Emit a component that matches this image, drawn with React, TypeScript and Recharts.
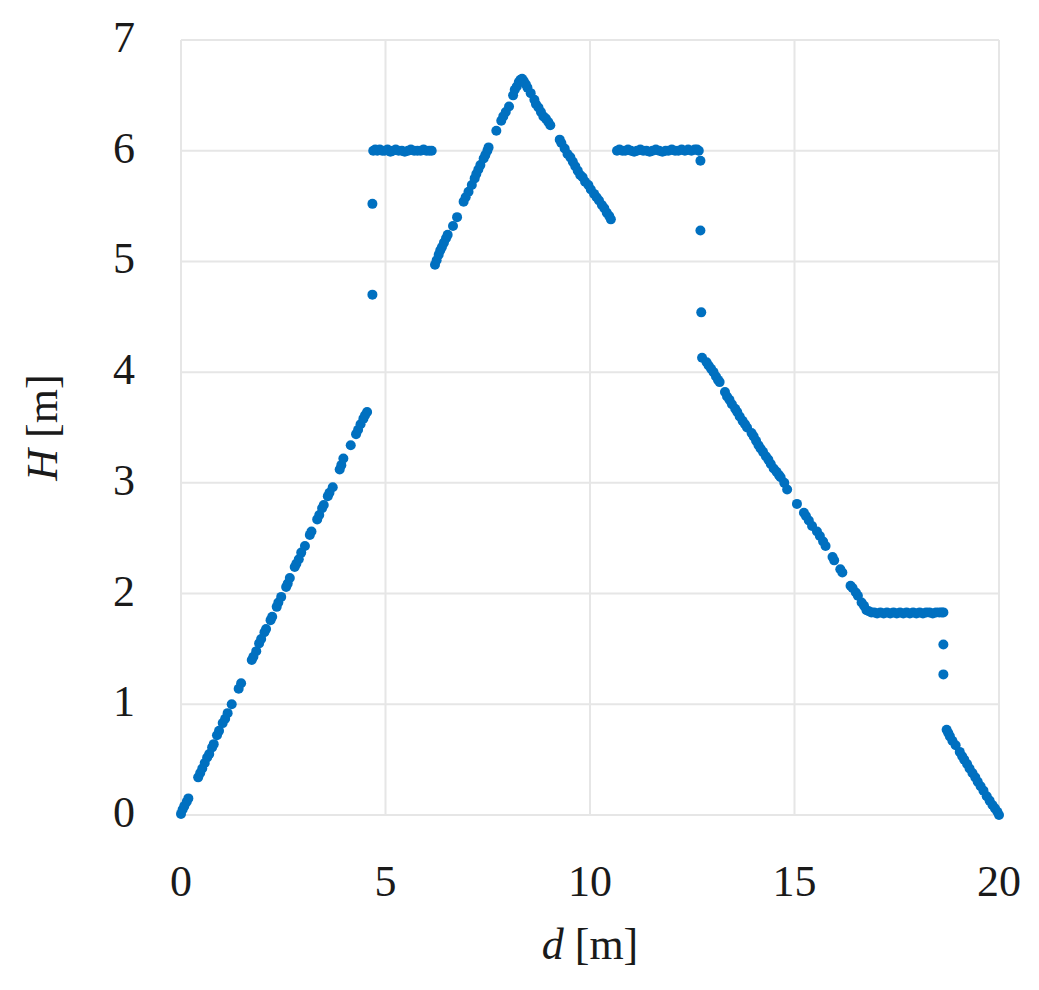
import React from "react";
import { ScatterChart, Scatter, XAxis, YAxis, CartesianGrid, Label } from "recharts";

type P = { d: number; H: number };
const mk = (a: number[][]): P[] => a.map(([d, H]) => ({ d, H }));

const xTicks = [0, 5, 10, 15, 20];
const yTicks = [0, 1, 2, 3, 4, 5, 6, 7];

const rise1 = mk([
  [0.0, 0.01], [0.04, 0.05], [0.08, 0.08], [0.14, 0.12], [0.18, 0.15],
  [0.42, 0.34], [0.47, 0.38], [0.52, 0.42], [0.58, 0.47], [0.64, 0.52],
  [0.69, 0.55], [0.76, 0.61], [0.8, 0.64], [0.88, 0.72], [0.93, 0.76],
  [1.02, 0.83], [1.08, 0.87], [1.14, 0.92], [1.24, 1.0], [1.41, 1.14],
  [1.47, 1.19], [1.73, 1.4], [1.77, 1.43], [1.84, 1.48], [1.91, 1.55],
  [1.96, 1.59], [2.04, 1.65], [2.08, 1.68], [2.19, 1.76], [2.23, 1.79],
  [2.34, 1.88], [2.38, 1.92], [2.45, 1.97], [2.57, 2.06], [2.61, 2.09],
  [2.66, 2.14], [2.78, 2.24], [2.82, 2.27], [2.88, 2.31], [2.94, 2.37],
  [3.03, 2.43], [3.15, 2.53], [3.19, 2.56], [3.33, 2.67], [3.38, 2.71],
  [3.45, 2.77], [3.49, 2.8], [3.59, 2.88], [3.63, 2.91], [3.71, 2.96],
  [3.88, 3.12], [3.92, 3.16], [3.97, 3.22], [4.15, 3.34], [4.28, 3.44],
  [4.33, 3.48], [4.39, 3.53], [4.46, 3.58], [4.5, 3.61], [4.55, 3.64],
]);

const jump1 = mk([[4.68, 4.7], [4.68, 5.52]]);

const plateau1 = mk([
  [4.7, 6.0], [4.75, 6.01], [4.8, 6.0], [4.86, 6.01], [4.92, 6.0], [4.98, 6.0],
  [5.05, 6.01], [5.12, 5.99], [5.18, 6.0], [5.25, 6.01], [5.32, 6.0], [5.4, 6.0],
  [5.47, 5.99], [5.55, 6.0], [5.62, 6.01], [5.7, 6.0], [5.78, 6.0], [5.86, 6.0],
  [5.93, 6.01], [6.0, 6.0], [6.07, 6.0], [6.13, 6.0],
]);

const rise2 = mk([
  [6.21, 4.97], [6.25, 5.01], [6.3, 5.06], [6.34, 5.1], [6.38, 5.13], [6.43, 5.17],
  [6.48, 5.21], [6.52, 5.24], [6.65, 5.32], [6.75, 5.4], [6.91, 5.54], [6.96, 5.58],
  [7.03, 5.63], [7.11, 5.69], [7.18, 5.75], [7.22, 5.79], [7.27, 5.83], [7.32, 5.87],
  [7.4, 5.93], [7.44, 5.96], [7.49, 6.0], [7.52, 6.03], [7.71, 6.18], [7.83, 6.27],
  [7.88, 6.31], [7.94, 6.35], [8.02, 6.4], [8.12, 6.5], [8.16, 6.55], [8.21, 6.58],
  [8.26, 6.62], [8.3, 6.64], [8.34, 6.65], [8.38, 6.63],
]);

const fall2 = mk([
  [8.43, 6.6], [8.47, 6.57], [8.55, 6.52], [8.64, 6.46], [8.68, 6.42], [8.74, 6.39],
  [8.8, 6.35], [8.86, 6.31], [8.92, 6.29], [8.98, 6.26], [9.03, 6.23], [9.26, 6.1],
  [9.3, 6.07], [9.38, 6.02], [9.45, 5.97], [9.52, 5.94], [9.58, 5.9], [9.64, 5.86],
  [9.7, 5.82], [9.76, 5.78], [9.82, 5.76], [9.88, 5.72], [9.96, 5.69], [10.02, 5.65],
  [10.1, 5.61], [10.16, 5.58], [10.22, 5.55], [10.29, 5.51], [10.35, 5.48],
  [10.41, 5.44], [10.47, 5.41], [10.51, 5.38],
]);

const plateau2 = mk([
  [10.66, 6.0], [10.72, 6.01], [10.79, 6.0], [10.86, 6.0], [10.93, 6.01], [11.0, 6.0],
  [11.08, 5.99], [11.15, 6.0], [11.23, 6.01], [11.3, 6.0], [11.38, 6.0], [11.46, 5.99],
  [11.53, 6.0], [11.61, 6.01], [11.69, 6.0], [11.77, 5.99], [11.85, 6.0], [11.92, 6.0],
  [12.0, 6.01], [12.08, 6.0], [12.16, 6.0], [12.24, 6.01], [12.32, 6.0], [12.4, 6.01],
  [12.48, 6.0], [12.56, 6.01], [12.62, 6.01], [12.66, 6.0],
]);

const jump2 = mk([[12.7, 5.91], [12.7, 5.28], [12.72, 4.54]]);

const fall3 = mk([
  [12.74, 4.13], [12.85, 4.09], [12.9, 4.06], [12.96, 4.03], [13.02, 4.0], [13.08, 3.96],
  [13.13, 3.93], [13.17, 3.91], [13.3, 3.82], [13.35, 3.78], [13.41, 3.75], [13.47, 3.71],
  [13.55, 3.67], [13.6, 3.64], [13.66, 3.6], [13.73, 3.56], [13.79, 3.53], [13.84, 3.5],
  [13.95, 3.45], [14.0, 3.42], [14.06, 3.38], [14.12, 3.34], [14.17, 3.31], [14.23, 3.28],
  [14.3, 3.24], [14.36, 3.21], [14.42, 3.17], [14.49, 3.13], [14.56, 3.1], [14.62, 3.07],
  [14.66, 3.05], [14.75, 3.0], [14.82, 2.94], [15.06, 2.81], [15.23, 2.73], [15.28, 2.7],
  [15.35, 2.66], [15.43, 2.61], [15.55, 2.56], [15.62, 2.52], [15.7, 2.47], [15.76, 2.43],
  [15.93, 2.33], [15.97, 2.3], [16.12, 2.22], [16.17, 2.19], [16.37, 2.07], [16.42, 2.05],
  [16.5, 2.01], [16.55, 1.98], [16.64, 1.92], [16.7, 1.89], [16.76, 1.85],
]);

const plateau3 = mk([
  [16.82, 1.84], [16.88, 1.83], [16.95, 1.83], [17.02, 1.82], [17.1, 1.83], [17.18, 1.82],
  [17.26, 1.83], [17.34, 1.82], [17.42, 1.83], [17.5, 1.82], [17.58, 1.83], [17.66, 1.82],
  [17.74, 1.83], [17.82, 1.82], [17.9, 1.83], [17.98, 1.82], [18.06, 1.83], [18.14, 1.82],
  [18.22, 1.83], [18.3, 1.83], [18.38, 1.82], [18.46, 1.83], [18.54, 1.83], [18.6, 1.83],
  [18.64, 1.83],
]);

const jump3 = mk([[18.64, 1.54], [18.64, 1.27]]);

const fall4 = mk([
  [18.72, 0.77], [18.76, 0.74], [18.8, 0.71], [18.86, 0.67], [18.94, 0.63], [19.04, 0.57],
  [19.1, 0.53], [19.15, 0.5], [19.22, 0.46], [19.28, 0.42], [19.35, 0.38], [19.42, 0.34],
  [19.48, 0.3], [19.55, 0.26], [19.62, 0.22], [19.7, 0.17], [19.77, 0.13], [19.84, 0.09],
  [19.9, 0.06], [19.96, 0.03], [20.0, 0.0],
]);

const points: P[] = [
  ...rise1, ...jump1, ...plateau1, ...rise2, ...fall2, ...plateau2,
  ...jump2, ...fall3, ...plateau3, ...jump3, ...fall4,
];

const FONT = "'Liberation Serif', 'Times New Roman', serif";
const FS = 44;
const BLUE = "#0070C0";

const Dot = (p: any) => <circle cx={p.cx} cy={p.cy} r={5} fill={BLUE} />;

const YTick = (p: any) => (
  <text x={p.x} y={p.y} dy={12} textAnchor="end" fontFamily={FONT} fontSize={FS} fill="#1a1a1a">
    {p.payload.value}
  </text>
);

const XTick = (p: any) => (
  <text x={p.x} y={p.y} dy={81} textAnchor="middle" fontFamily={FONT} fontSize={FS} fill="#1a1a1a">
    {p.payload.value}
  </text>
);

const YLabel = (p: any) => {
  const vb = p.viewBox;
  const cx = vb.x + 42;
  const cy = vb.y + vb.height / 2;
  return (
    <text
      x={cx}
      y={cy}
      transform={`rotate(-90 ${cx} ${cy})`}
      textAnchor="middle"
      dominantBaseline="central"
      fontFamily={FONT}
      fontSize={FS}
      fill="#1a1a1a"
    >
      <tspan fontStyle="italic">H</tspan> [m]
    </text>
  );
};

const XLabel = (p: any) => {
  const vb = p.viewBox;
  const cx = vb.x + vb.width / 2;
  const cy = vb.y + 144;
  return (
    <text x={cx} y={cy} textAnchor="middle" fontFamily={FONT} fontSize={FS} fill="#1a1a1a">
      <tspan fontStyle="italic">d</tspan> [m]
    </text>
  );
};

export default function App() {
  return (
    <div style={{ position: "absolute", left: 0, top: 0, width: 1039, height: 990, background: "#fff" }}>
      <ScatterChart width={1039} height={990} margin={{ top: 40, right: 40, left: 0, bottom: 0 }}>
        <CartesianGrid stroke="#e6e6e6" strokeWidth={2} />
        <XAxis
          type="number"
          dataKey="d"
          domain={[0, 20]}
          ticks={xTicks}
          height={175}
          axisLine={false}
          tickLine={false}
          tickSize={0}
          tickMargin={0}
          tick={<XTick />}
          interval={0}
        >
          <Label content={<XLabel />} />
        </XAxis>
        <YAxis
          type="number"
          dataKey="H"
          domain={[0, 7]}
          ticks={yTicks}
          width={181}
          axisLine={false}
          tickLine={false}
          tickSize={0}
          tickMargin={46}
          tick={<YTick />}
          interval={0}
        >
          <Label content={<YLabel />} />
        </YAxis>
        <Scatter data={points} fill={BLUE} shape={<Dot />} isAnimationActive={false} />
      </ScatterChart>
    </div>
  );
}
